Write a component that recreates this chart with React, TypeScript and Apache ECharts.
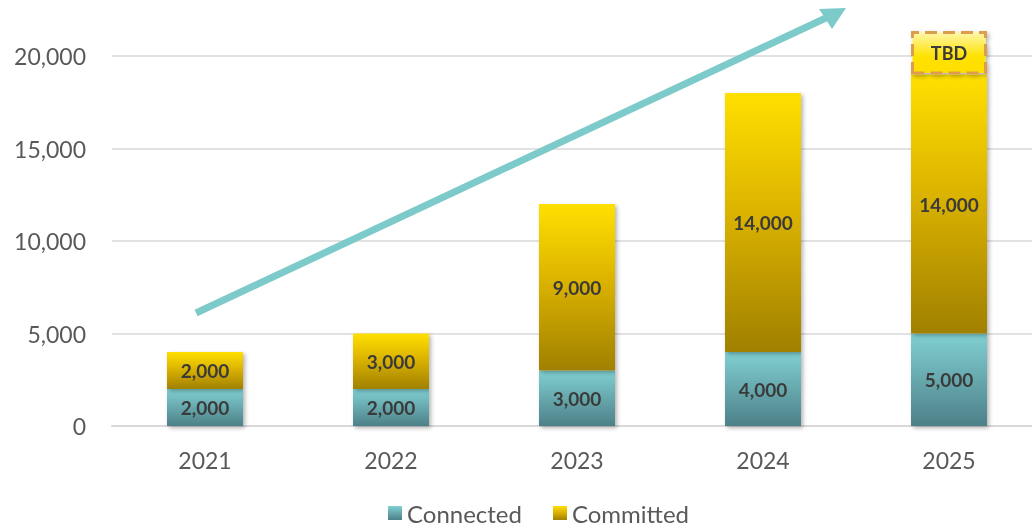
import React, { useEffect, useRef } from "react";
import * as echarts from "echarts";

const years = ["2021", "2022", "2023", "2024", "2025"];
const connected = [2000, 2000, 3000, 4000, 5000];
const committed = [2000, 3000, 9000, 14000, 14000];
const tbd = [null, null, null, null, 2350];
const tbdLabel = "TBD";
const yTicks = [0, 5000, 10000, 15000, 20000];

const FONT = "Lato, 'Open Sans', sans-serif";

export default function App() {
  const ref = useRef<HTMLDivElement>(null);
  useEffect(() => {
    document.body.style.margin = "0";
    const chart = echarts.init(ref.current!, null, { renderer: "svg" });
    const shadow = {
      shadowBlur: 4,
      shadowOffsetX: 2,
      shadowOffsetY: 2,
      shadowColor: "rgba(0,0,0,0.3)",
    };
    const labelStyle = {
      show: true,
      position: "inside",
      fontFamily: FONT,
      fontWeight: "bold",
      fontSize: 19,
      color: "#3a3a3a",
      formatter: (p: any) => Number(p.value).toLocaleString("en-US"),
    };
    const connGrad = new echarts.graphic.LinearGradient(0, 0, 0, 1, [
      { offset: 0, color: "#80d0d2" },
      { offset: 1, color: "#4d8088" },
    ]);
    const commGrad = new echarts.graphic.LinearGradient(0, 0, 0, 1, [
      { offset: 0, color: "#ffe000" },
      { offset: 0.45, color: "#dcb400" },
      { offset: 1, color: "#a08000" },
    ]);
    chart.setOption({
      animation: false,
      textStyle: { fontFamily: FONT },
      grid: { left: 112, right: 0, top: 56, bottom: 100 },
      legend: {
        bottom: -4,
        left: 383,
        icon: "rect",
        itemWidth: 14,
        itemHeight: 14,
        itemGap: 31,
        data: ["Connected", "Committed"],
        textStyle: { fontSize: 24, color: "#595959", fontFamily: FONT },
      },
      xAxis: {
        type: "category",
        data: years,
        axisLine: { lineStyle: { color: "#d9d9d9", width: 2 } },
        axisTick: { show: false },
        axisLabel: { fontSize: 23, color: "#595959", margin: 22, fontFamily: FONT },
      },
      yAxis: {
        type: "value",
        min: yTicks[0],
        max: yTicks[yTicks.length - 1],
        interval: 5000,
        axisLine: { show: false },
        axisTick: { show: false },
        splitLine: { lineStyle: { color: "#d9d9d9", width: 1.5 } },
        axisLabel: {
          fontSize: 23,
          color: "#595959",
          margin: 26,
          fontFamily: FONT,
          formatter: (v: number) => v.toLocaleString("en-US"),
        },
      },
      series: [
        {
          name: "Connected",
          type: "bar",
          stack: "total",
          barWidth: 76,
          clip: false,
          data: connected,
          itemStyle: { color: connGrad, ...shadow },
          label: labelStyle,
        },
        {
          name: "Committed",
          type: "bar",
          stack: "total",
          barWidth: 76,
          clip: false,
          data: committed,
          itemStyle: { color: commGrad, ...shadow },
          label: labelStyle,
        },
        {
          name: "TBD",
          type: "bar",
          stack: "total",
          barWidth: 76,
          clip: false,
          data: tbd,
          z: 3,
          itemStyle: {
            color: new echarts.graphic.LinearGradient(0, 0, 0, 1, [
              { offset: 0, color: "#fff6a8" },
              { offset: 0.6, color: "#ffe200" },
              { offset: 1, color: "#ffde00" },
            ]),
            borderColor: "#dc9e4e",
            borderWidth: 3,
            borderType: [12, 6],
            ...shadow,
          },
          label: { ...labelStyle, formatter: () => tbdLabel, fontSize: 18 },
        },
      ],
      graphic: [
        {
          type: "line",
          shape: { x1: 196, y1: 313, x2: 828, y2: 17 },
          style: { stroke: "#7dcaca", lineWidth: 7 },
          z: 10,
        },
        {
          type: "polygon",
          shape: { points: [[846, 8], [819, 9], [832, 29]] },
          style: { fill: "#7dcaca" },
          z: 10,
        },
      ],
    });
    return () => chart.dispose();
  }, []);
  return (
    <div
      style={{
        position: "fixed",
        left: 0,
        top: 0,
        width: 1032,
        height: 526,
        overflow: "hidden",
      }}
    >
      <div ref={ref} style={{ width: 1042, height: 526 }} />
    </div>
  );
}
